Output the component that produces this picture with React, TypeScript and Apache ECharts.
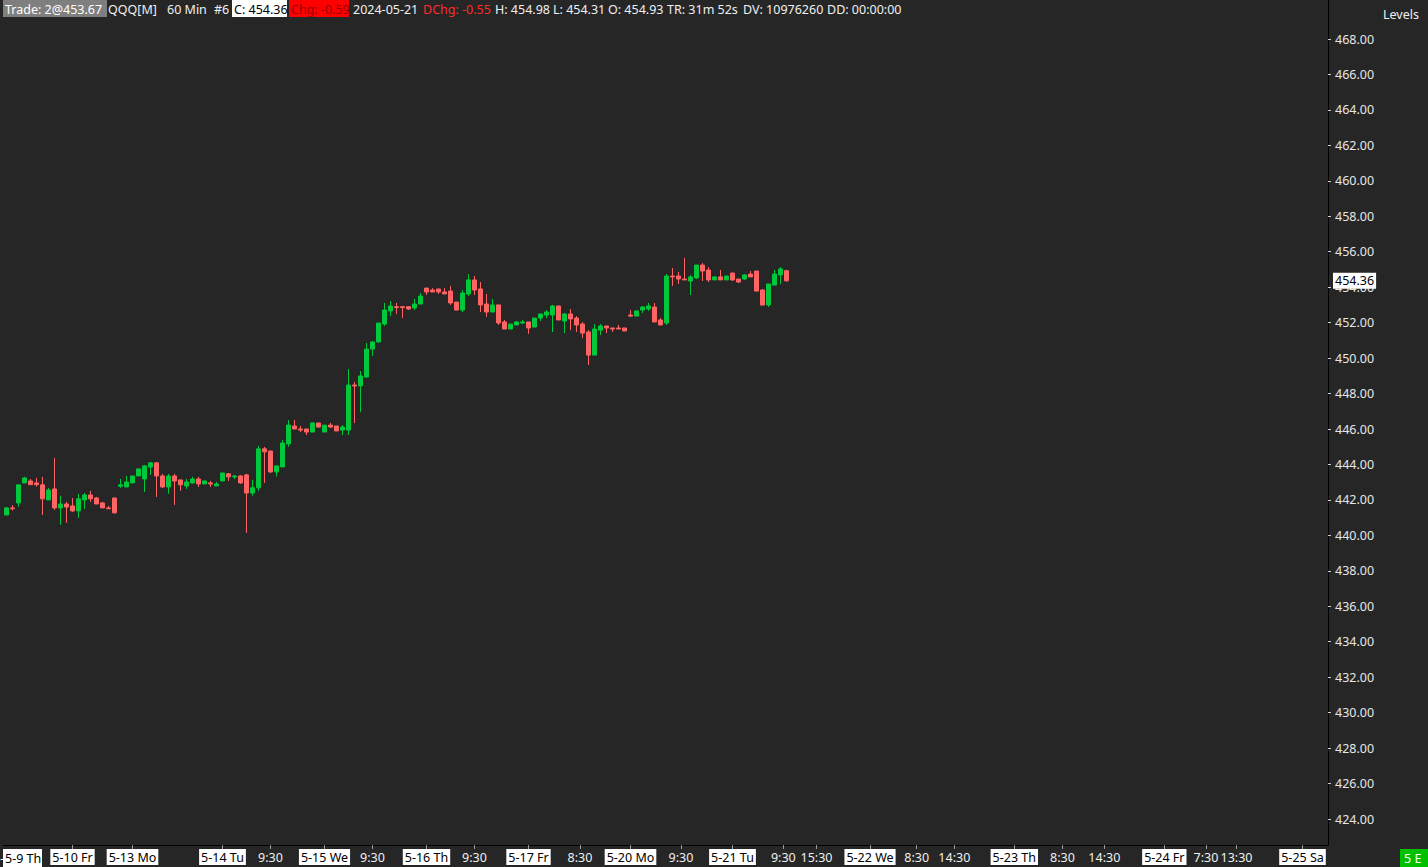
import React, { useEffect, useRef } from "react";
import * as echarts from "echarts";

// OHLC of the 60-minute QQQ bars (index = bar slot)
const opens = [
  441.15, 441.55, 441.83, 442.96, 443.07, 442.96, 442.85, 442.0, 442.62, 441.55,
  441.77, 441.66, 441.38, 442.0, 442.28, 442.11, 441.83, 441.55, 442.11, 442.77,
  442.73, 442.96, 443.35, 443.18, 443.86, 444.09, 443.35, 442.73, 443.35, 443.13,
  442.79, 442.96, 443.18, 442.9, 442.96, 442.79, 443.07, 443.47, 443.3, 443.35,
  443.41, 442.39, 442.68, 444.88, 444.76, 443.58, 443.86, 445.16, 446.17, 446.0,
  446.0, 445.83, 446.34, 445.83, 446.22, 446.17, 445.94, 445.94, 448.48, 448.43,
  448.93, 450.51, 450.91, 451.92, 452.66, 452.9, 452.9, 452.9, 452.83, 453.05,
  453.95, 453.84, 453.9, 453.73, 453.78, 453.16, 452.71, 453.62, 454.41, 453.9,
  453.05, 452.6, 453.0, 452.04, 451.64, 451.87, 451.98, 452.04, 451.75, 452.26,
  452.43, 452.43, 452.94, 452.09, 452.49, 452.26, 451.92, 451.47, 450.17, 451.58,
  451.81, 451.7, 451.7, 451.7, 452.43, 452.37, 452.71, 452.77, 452.88, 452.15,
  451.98, 454.63, 454.63, 454.46, 454.35, 454.52, 455.25, 454.97, 454.41, 454.58,
  454.41, 454.8, 454.46, 454.46, 454.74, 454.91, 453.84, 453.0, 454.12, 454.69,
  454.93,
];
const closes = [
  441.55, 441.5, 442.85, 443.24, 442.86, 442.86, 442.06, 442.56, 441.55, 441.77,
  441.6, 441.38, 442.06, 442.28, 442.06, 441.77, 441.55, 441.5, 441.27, 442.85,
  443.01, 443.35, 443.75, 443.92, 444.09, 443.35, 442.73, 443.35, 443.07, 442.85,
  443.01, 443.18, 442.9, 443.07, 442.9, 442.9, 443.52, 443.3, 443.35, 442.96,
  442.39, 442.68, 444.88, 444.71, 443.58, 443.92, 445.21, 446.22, 446.0, 445.94,
  445.83, 446.34, 446.11, 446.22, 446.11, 445.89, 446.11, 448.48, 448.43, 448.99,
  450.51, 450.91, 451.98, 452.71, 452.94, 452.85, 452.85, 452.77, 453.05, 453.5,
  453.73, 453.73, 453.73, 453.62, 453.11, 452.71, 453.67, 454.41, 453.84, 453.0,
  452.6, 453.0, 451.98, 451.64, 451.92, 452.04, 452.04, 451.7, 452.26, 452.49,
  452.6, 452.94, 452.15, 452.49, 452.21, 451.87, 451.41, 450.17, 451.64, 451.81,
  451.7, 451.64, 451.64, 451.53, 452.37, 452.66, 452.88, 452.94, 452.04, 451.87,
  454.63, 454.58, 454.46, 454.41, 454.58, 455.25, 454.91, 454.41, 454.58, 454.41,
  454.63, 454.41, 454.29, 454.69, 454.58, 453.78, 452.99, 454.18, 454.74, 455.03,
  454.36,
];
const lows = [
  441.15, 441.4, 441.62, 442.96, 442.86, 442.75, 441.15, 442.0, 441.44, 440.59,
  440.7, 441.32, 440.99, 441.49, 441.89, 441.77, 441.55, 441.5, 441.23, 442.68,
  442.73, 442.96, 443.35, 442.45, 443.41, 442.17, 442.68, 442.34, 441.72, 442.51,
  442.62, 442.92, 442.73, 442.9, 442.73, 442.79, 443.07, 443.07, 443.18, 442.9,
  440.14, 442.23, 442.51, 442.96, 443.52, 443.32, 443.86, 444.99, 446.0, 445.83,
  445.66, 445.83, 446.11, 445.83, 446.06, 445.89, 445.66, 445.66, 446.33, 446.95,
  448.93, 450.12, 450.85, 451.81, 452.37, 452.49, 452.26, 452.71, 452.71, 453.05,
  453.56, 453.73, 453.62, 453.62, 453.0, 452.71, 452.6, 453.5, 453.56, 452.6,
  452.32, 452.6, 451.87, 451.64, 451.64, 451.87, 451.92, 451.36, 451.75, 452.09,
  452.26, 451.47, 452.15, 451.41, 451.58, 451.47, 451.13, 449.61, 450.17, 451.3,
  451.41, 451.47, 451.64, 451.53, 452.32, 452.37, 452.54, 452.66, 452.04, 451.87,
  451.87, 454.07, 454.18, 454.41, 453.56, 454.46, 454.35, 454.29, 454.41, 454.41,
  454.41, 454.35, 454.24, 454.41, 454.58, 453.78, 452.99, 452.88, 454.12, 454.18,
  454.31,
];
const highs = [
  441.6, 441.7, 442.85, 443.3, 443.18, 443.24, 443.3, 442.68, 444.37, 442.23,
  441.89, 442.11, 442.34, 442.39, 442.51, 442.17, 441.89, 441.66, 442.11, 443.18,
  443.35, 443.35, 443.75, 443.97, 444.14, 444.14, 443.47, 443.47, 443.47, 443.13,
  443.18, 443.3, 443.3, 443.07, 443.07, 443.01, 443.52, 443.52, 443.41, 443.41,
  443.47, 443.13, 445.05, 444.99, 444.76, 443.92, 445.38, 446.5, 446.5, 446.17,
  446.0, 446.39, 446.34, 446.22, 446.34, 446.17, 446.22, 449.38, 448.65, 449.27,
  450.85, 450.96, 451.98, 453.11, 453.22, 453.11, 452.94, 452.9, 453.33, 453.67,
  453.95, 453.95, 453.9, 453.95, 454.07, 453.16, 453.84, 454.74, 454.63, 454.29,
  453.62, 453.33, 453.0, 452.15, 451.92, 452.09, 452.15, 452.04, 452.26, 452.49,
  452.71, 453.0, 452.94, 452.54, 452.77, 452.37, 452.04, 451.58, 451.92, 451.92,
  451.81, 451.7, 451.87, 451.7, 452.71, 452.66, 452.94, 453.11, 453.11, 452.26,
  454.74, 455.08, 454.86, 455.65, 454.69, 455.25, 455.36, 455.14, 454.63, 454.97,
  454.63, 454.8, 454.46, 454.74, 454.91, 454.91, 453.9, 454.18, 454.97, 455.14,
  454.98,
];

// y-axis tick labels
const yTicks = [
  424, 426, 428, 430, 432, 434, 436, 438, 440, 442, 444, 446, 448, 450, 452, 454,
  456, 458, 460, 462, 464, 466, 468,
];

// x-axis labels (position in bar slots)
const xLabelSlots = [
  11, 21, 36, 44, 53, 61, 70, 78, 87, 95.58, 104, 112.42, 121, 129.47, 135,
  143.92, 151.7, 157.97, 167.97, 176, 182.97, 192.97, 199.92, 205, 216,
];
const xLabelTexts = [
  "5-10 Fr", "5-13 Mo", "5-14 Tu", "9:30", "5-15 We", "9:30", "5-16 Th", "9:30",
  "5-17 Fr", "8:30", "5-20 Mo", "9:30", "5-21 Tu", "9:30", "15:30", "5-22 We",
  "8:30", "14:30", "5-23 Th", "8:30", "14:30", "5-24 Fr", "7:30", "13:30", "5-25 Sa",
];
const firstDateLabel = "5-9 Th";

const headerItems = [
  { text: "Trade: 2@453.67", x: 5, fill: "#ffffff" },
  { text: "QQQ[M]", x: 108, fill: "#f0f0f0" },
  { text: "60 Min", x: 167, fill: "#f0f0f0" },
  { text: "#6", x: 214, fill: "#f0f0f0" },
  { text: "C: 454.36", x: 234, fill: "#000000" },
  { text: "Chg: -0.59", x: 291, fill: "#9a0000" },
  { text: "2024-05-21", x: 353, fill: "#f0f0f0" },
  { text: "DChg: -0.55", x: 423, fill: "#ff2a2a" },
  { text: "H: 454.98", x: 495, fill: "#f0f0f0" },
  { text: "L: 454.31", x: 553, fill: "#f0f0f0" },
  { text: "O: 454.93", x: 608, fill: "#f0f0f0" },
  { text: "TR: 31m 52s", x: 667, fill: "#f0f0f0" },
  { text: "DV: 10976260", x: 743, fill: "#f0f0f0" },
  { text: "DD: 00:00:00", x: 827, fill: "#f0f0f0" },
];

const BG = "#262626";
const UP = "#00c83c";
const DOWN = "#ff6464";
const FONT = '"Noto Sans", "Open Sans", sans-serif';

export default function App() {
  const ref = useRef<HTMLDivElement>(null);

  useEffect(() => {
    if (!ref.current) return;
    const chart = echarts.init(ref.current, null, { renderer: "svg" });
    const data = opens.map((o, i) => [i, o, closes[i], lows[i], highs[i]]);
    const last = closes[closes.length - 1];

    const font = `12.5px ${FONT}`;
    const graphic: any[] = [
      { type: "rect", shape: { x: 3, y: 0, width: 104, height: 17 }, style: { fill: "#7f7f7f" }, silent: true },
      { type: "rect", shape: { x: 232, y: 0, width: 55, height: 17 }, style: { fill: "#ffffff" }, silent: true },
      { type: "rect", shape: { x: 289, y: 0, width: 60, height: 17 }, style: { fill: "#ff0000" }, silent: true },
      ...headerItems.map((h) => ({
        type: "text",
        x: h.x,
        y: 9,
        silent: true,
        style: { text: h.text, fill: h.fill, font, verticalAlign: "middle", align: "left" },
      })),
      {
        type: "text",
        x: 1383,
        y: 14,
        silent: true,
        style: { text: "Levels", fill: "#f0f0f0", font, verticalAlign: "middle" },
      },
      {
        type: "text",
        x: 0,
        y: 858,
        silent: true,
        style: { text: "-", fill: "#f0f0f0", font, verticalAlign: "middle" },
      },
      { type: "rect", shape: { x: 3, y: 849, width: 39, height: 18 }, style: { fill: "#ffffff" }, silent: true },
      {
        type: "text",
        x: 5,
        y: 858,
        silent: true,
        style: { text: firstDateLabel, fill: "#000000", font, verticalAlign: "middle" },
      },
      { type: "rect", shape: { x: 1400, y: 849, width: 28, height: 18 }, style: { fill: "#00c000" }, silent: true },
      {
        type: "text",
        x: 1404,
        y: 858,
        silent: true,
        style: { text: "5 E", fill: "#ffffff", font, verticalAlign: "middle" },
      },
    ];

    chart.setOption({
      animation: false,
      backgroundColor: BG,
      textStyle: { fontFamily: FONT },
      grid: { left: 3.5, right: 100, top: 0, bottom: 22, containLabel: false },
      xAxis: {
        type: "value",
        min: -0.5,
        max: 220.25,
        splitLine: { show: false },
        axisLine: { show: true, onZero: false, lineStyle: { color: "#000000", width: 1 } },
        axisTick: {
          show: true,
          customValues: xLabelSlots,
          length: 4,
          lineStyle: { color: "#9a9a9a" },
        },
        axisLabel: {
          customValues: xLabelSlots,
          margin: 4,
          fontSize: 12.5,
          fontFamily: FONT,
          formatter: (v: number) => {
            let k = 0;
            let best = Infinity;
            xLabelSlots.forEach((s, j) => {
              const d = Math.abs(s - v);
              if (d < best) {
                best = d;
                k = j;
              }
            });
            const t = xLabelTexts[k];
            return t.includes("-") ? `{d|${t}}` : `{t|${t}}`;
          },
          rich: {
            d: { backgroundColor: "#ffffff", color: "#000000", padding: [2, 2, 1, 2], fontSize: 12.5, fontFamily: FONT },
            t: { color: "#f0f0f0", padding: [2, 2, 1, 2], fontSize: 12.5, fontFamily: FONT },
          },
        },
      },
      yAxis: {
        type: "value",
        position: "right",
        min: 422.534,
        max: 470.2,
        splitLine: { show: false },
        axisLine: { show: true, onZero: false, lineStyle: { color: "#000000", width: 1 } },
        axisTick: {
          show: true,
          customValues: yTicks,
          length: 3,
          lineStyle: { color: "#cfcfcf" },
        },
        axisLabel: {
          customValues: yTicks,
          margin: 7,
          color: "#e6e6e6",
          fontSize: 12.5,
          fontFamily: FONT,
          formatter: (v: number) => v.toFixed(2),
        },
      },
      series: [
        {
          type: "candlestick",
          data,
          clip: false,
          encode: { x: 0, y: [1, 2, 3, 4] },
          barWidth: 4,
          itemStyle: {
            color: UP,
            color0: DOWN,
            borderColor: UP,
            borderColor0: DOWN,
            borderWidth: 1,
          },
          markLine: {
            silent: true,
            z: 10,
            symbol: ["none", "none"],
            lineStyle: { color: "rgba(0,0,0,0)", width: 0, type: "solid" },
            label: {
              show: true,
              position: "end",
              distance: 5,
              formatter: () => last.toFixed(2),
              backgroundColor: "#ffffff",
              color: "#000000",
              opacity: 1,
              padding: [2, 2, 1, 2],
              fontSize: 12.5,
              fontFamily: FONT,
            },
            data: [{ yAxis: last }],
          },
        },
      ],
      graphic,
    });

    return () => chart.dispose();
  }, []);

  return (
    <div
      ref={ref}
      style={{ position: "fixed", left: 0, top: 0, width: 1428, height: 867, background: BG }}
    />
  );
}
